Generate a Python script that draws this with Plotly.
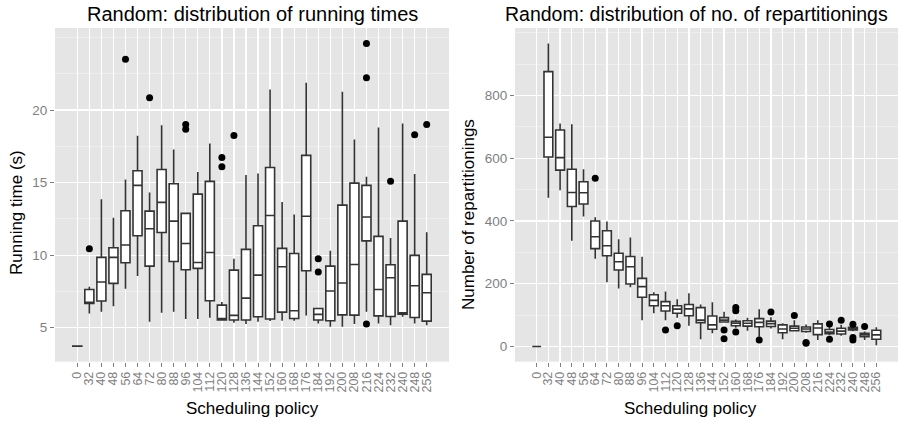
import plotly.graph_objects as go
from plotly.subplots import make_subplots

policies = ["0", "32", "40", "48", "56", "64", "72", "80", "88", "96", "104", "112", "120", "128",
            "136", "144", "152", "160", "168", "176", "184", "192", "200", "208", "216", "224",
            "232", "240", "248", "256"]

# ---- Running times (s) ----
rt_low = [3.70, 5.99, 6.10, 6.49, 7.68, 8.56, 5.41, 6.03, 6.10, 5.60, 5.60, 5.69, 5.53, 5.34,
          5.25, 5.41, 5.46, 5.48, 5.48, 5.85, 5.30, 5.07, 5.07, 5.25, 6.10, 5.30, 5.18, 5.76, 5.30, 5.18]
rt_q1 = [3.72, 6.68, 6.84, 8.06, 9.48, 11.34, 9.25, 11.57, 9.57, 9.00, 9.09, 6.86, 5.53, 5.53,
         5.53, 5.76, 5.60, 6.08, 5.64, 8.93, 5.53, 5.48, 5.89, 5.87, 10.99, 5.82, 5.78, 5.94, 5.71, 5.46]
rt_med = [3.73, 6.72, 8.15, 9.85, 10.70, 14.81, 11.82, 13.64, 12.35, 10.81, 9.50, 10.19, 5.64, 5.85,
          7.04, 8.63, 12.74, 9.20, 6.17, 12.69, 5.92, 7.53, 8.08, 9.36, 12.63, 7.64, 8.45, 6.03, 7.89, 7.41]
rt_q3 = [3.74, 7.64, 9.85, 10.51, 13.06, 15.82, 13.04, 15.91, 14.92, 12.88, 14.21, 15.09, 6.56, 8.97,
         10.40, 12.03, 16.05, 10.47, 10.12, 16.88, 6.33, 9.25, 13.45, 14.97, 14.81, 11.30, 9.34, 12.35, 9.99, 8.68]
rt_high = [3.76, 7.82, 13.85, 12.58, 15.22, 18.23, 14.33, 18.95, 17.29, 12.88, 15.73, 17.70, 6.77, 9.75,
           15.52, 15.63, 21.42, 13.66, 12.81, 21.88, 6.33, 10.30, 21.26, 17.98, 15.41, 18.81, 11.18, 19.08, 15.59, 11.59]
rt_out_x = ["32", "56", "72", "96", "96", "120", "120", "128", "184", "184", "216", "216", "216",
            "232", "248", "256"]
rt_out_y = [10.44, 23.51, 20.85, 19.01, 18.69, 16.74, 16.10, 18.25, 9.75, 8.84, 24.60, 22.23, 5.25,
            15.09, 18.30, 19.01]

# ---- Number of repartitionings ----
rp_low = [0, 474, 498, 337, 414, 280, 205, 185, 189, 84, 106, 84, 92, 66,
          23, 42, 76, 60, 50, 31, 57, 23, 50, 44, 21, 36, 34, 49, 21, 4]
rp_q1 = [0, 604, 562, 446, 454, 312, 289, 244, 199, 157, 130, 113, 106, 98,
         76, 55, 78, 66, 65, 63, 64, 44, 50, 48, 38, 41, 40, 53, 31, 23]
rp_med = [0, 667, 602, 491, 490, 350, 321, 270, 254, 191, 147, 130, 119, 120,
          84, 69, 84, 74, 74, 77, 73, 56, 58, 56, 59, 46, 49, 57, 37, 37]
rp_q3 = [0, 876, 690, 565, 525, 400, 369, 297, 287, 217, 165, 143, 130, 134,
         124, 97, 92, 80, 82, 89, 81, 69, 65, 62, 72, 54, 58, 61, 42, 52]
rp_high = [0, 966, 711, 708, 565, 412, 398, 342, 347, 286, 173, 175, 151, 170,
           134, 141, 111, 86, 92, 119, 93, 74, 84, 70, 84, 62, 69, 66, 48, 61]
rp_out_x = ["64", "112", "120", "152", "152", "160", "160", "160", "176", "184", "200", "208", "208",
            "224", "224", "232", "240", "240", "240", "248"]
rp_out_y = [536, 53, 66, 53, 25, 124, 114, 46, 21, 110, 99, 13, 10,
            72, 23, 84, 71, 29, 21, 64]

FONT = "Liberation Sans, Arial, Helvetica, sans-serif"
LINE = "#333333"

fig = make_subplots(rows=1, cols=2)

def add_panel(col, low, q1, med, q3, high, ox, oy):
    fig.add_trace(go.Box(x=policies, lowerfence=low, q1=q1, median=med, q3=q3, upperfence=high,
                         fillcolor="white", line=dict(color=LINE, width=1.6), whiskerwidth=0,
                         width=0.75, boxpoints=False, showlegend=False, hoverinfo="skip"),
                  row=1, col=col)
    fig.add_trace(go.Scatter(x=ox, y=oy, mode="markers",
                             marker=dict(color="black", size=7), showlegend=False, hoverinfo="skip"),
                  row=1, col=col)

add_panel(1, rt_low, rt_q1, rt_med, rt_q3, rt_high, rt_out_x, rt_out_y)
add_panel(2, rp_low, rp_q1, rp_med, rp_q3, rp_high, rp_out_x, rp_out_y)

ydom = [1 - 361.7 / 422, 1 - 28 / 422]
xax_common = dict(type="category", categoryorder="array", categoryarray=policies,
                  tickmode="array", tickvals=policies, ticktext=policies,
                  range=[-1.85, 30.85], showgrid=True, gridcolor="white", gridwidth=1.3,
                  ticks="outside", ticklen=4, tickcolor="#7F7F7F", tickwidth=1,
                  tickangle=-90, tickfont=dict(family=FONT, size=12.5, color="#7F7F7F"),
                  showline=False, zeroline=False, fixedrange=True, automargin=False)
yax_common = dict(showgrid=True, gridcolor="white", gridwidth=1.3,
                  ticks="outside", ticklen=4, tickcolor="#7F7F7F", tickwidth=1,
                  tickfont=dict(family=FONT, size=13.5, color="#7F7F7F"),
                  showline=False, zeroline=False, fixedrange=True, automargin=False)

fig.update_xaxes(**xax_common)
fig.update_yaxes(**yax_common)
fig.update_xaxes(domain=[55 / 898, 449 / 898], row=1, col=1)
fig.update_xaxes(domain=[515 / 898, 898 / 898], row=1, col=2)
fig.update_yaxes(domain=ydom, range=[2.66, 25.66], tickvals=[5, 10, 15, 20],
                 minor=dict(tickvals=[7.5, 12.5, 17.5, 22.5, 25], showgrid=True,
                            gridcolor="#F2F2F2", gridwidth=0.7, ticks=""),
                 row=1, col=1)
fig.update_yaxes(domain=ydom, range=[-48.4, 1015], tickvals=[0, 200, 400, 600, 800],
                 minor=dict(tickvals=[100, 300, 500, 700, 900, 1000], showgrid=True,
                            gridcolor="#F2F2F2", gridwidth=0.7, ticks=""),
                 row=1, col=2)

annotations = [
    dict(text="Random: distribution of running times", x=252 / 898, y=1 - 14 / 422,
         xref="paper", yref="paper", showarrow=False, xanchor="center", yanchor="middle",
         font=dict(family=FONT, size=20, color="black")),
    dict(text="Random: distribution of no. of repartitionings", x=696 / 898, y=1 - 14 / 422,
         xref="paper", yref="paper", showarrow=False, xanchor="center", yanchor="middle",
         font=dict(family=FONT, size=19.5, color="black")),
    dict(text="Scheduling policy", x=252 / 898, y=1 - 408 / 422,
         xref="paper", yref="paper", showarrow=False, xanchor="center", yanchor="middle",
         font=dict(family=FONT, size=17, color="black")),
    dict(text="Scheduling policy", x=690 / 898, y=1 - 408 / 422,
         xref="paper", yref="paper", showarrow=False, xanchor="center", yanchor="middle",
         font=dict(family=FONT, size=17, color="black")),
    dict(text="Running time (s)", x=16 / 898, y=1 - 213 / 422, textangle=-90,
         xref="paper", yref="paper", showarrow=False, xanchor="center", yanchor="middle",
         font=dict(family=FONT, size=17, color="black")),
    dict(text="Number of repartitionings", x=468 / 898, y=1 - 214 / 422, textangle=-90,
         xref="paper", yref="paper", showarrow=False, xanchor="center", yanchor="middle",
         font=dict(family=FONT, size=17, color="black")),
]

fig.update_layout(width=898, height=422, margin=dict(l=0, r=0, t=0, b=0, autoexpand=False),
                  paper_bgcolor="white", plot_bgcolor="#E5E5E5",
                  annotations=annotations, showlegend=False)

fig.write_html("out.html", config={"displayModeBar": False, "staticPlot": True},
               post_script="document.body.style.margin='0';document.body.style.overflow='hidden';")
